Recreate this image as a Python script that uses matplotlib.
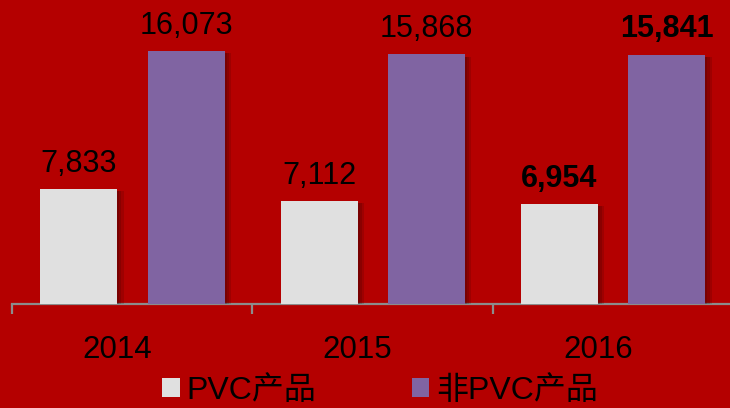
import numpy as np
import matplotlib
matplotlib.use('Agg')
import matplotlib.pyplot as plt
import matplotlib.patheffects as pe
from matplotlib.patches import Patch

plt.rcParams['font.family'] = ['Liberation Sans', 'Noto Sans CJK SC', 'DejaVu Sans']

# data
years = ['2014', '2015', '2016']
pvc = [7833, 7112, 6954]
non_pvc = [16073, 15868, 15841]
series_names = ['PVC产品', '非PVC产品']

bg = '#B40000'
c_pvc = '#E0E0E0'
c_non = '#8064A2'

fig = plt.figure(figsize=(7.3, 4.08), dpi=100, facecolor=bg)
ax = fig.add_axes([12 / 730, 1 - 304 / 408, 721 / 730, 304 / 408])
ax.set_facecolor(bg)

x = np.arange(len(years))
w = 0.32
shadow = [pe.SimplePatchShadow(offset=(o, -1.5), shadow_rgbFace='black', alpha=0.12)
          for o in (1.5, 3, 4.5)] + [pe.Normal()]

b1 = ax.bar(x - 0.222, pvc, w, bottom=0, color=c_pvc, zorder=3)
b2 = ax.bar(x + 0.225, non_pvc, w, bottom=0, color=c_non, zorder=3)
for r in list(b1) + list(b2):
    r.set_path_effects(shadow)

ax.set_xlim(-0.5, 2.5)
ax.set_ylim(1000, 19111)

for i, (a, b) in enumerate(zip(pvc, non_pvc)):
    wt = 'bold' if i == 2 else 'normal'
    ax.annotate(f'{a:,}', (x[i] - 0.222, a), xytext=(0, 7.5), textcoords='offset points',
                ha='center', va='bottom', fontsize=22, fontweight=wt, color='black')
    ax.annotate(f'{b:,}', (x[i] + 0.225, b), xytext=(0, 7.5), textcoords='offset points',
                ha='center', va='bottom', fontsize=22, fontweight=wt, color='black')

for s in ['top', 'right', 'left']:
    ax.spines[s].set_visible(False)
ax.spines['bottom'].set_color('#8C8C8C')
ax.spines['bottom'].set_linewidth(1.6)
ax.set_yticks([])
ax.set_xticks([-0.5, 0.5, 1.5, 2.5])
ax.set_xticklabels([])
ax.tick_params(axis='x', length=7, width=1.6, color='#8C8C8C', direction='out')

for i, yr in enumerate(years):
    ax.text(x[i] - 0.062, -0.15, yr, transform=ax.get_xaxis_transform(),
            ha='center', va='center', fontsize=22.5, color='black')

handles = [Patch(facecolor=c_pvc), Patch(facecolor=c_non)]
fig.legend(handles, series_names, loc='center', bbox_to_anchor=(0.5205, 0.042), ncol=2,
           frameon=False, fontsize=23, handlelength=0.55, handleheight=0.55,
           handletextpad=0.2, columnspacing=3.0, borderpad=0)

fig.savefig('out.png', dpi=100, facecolor=bg)
